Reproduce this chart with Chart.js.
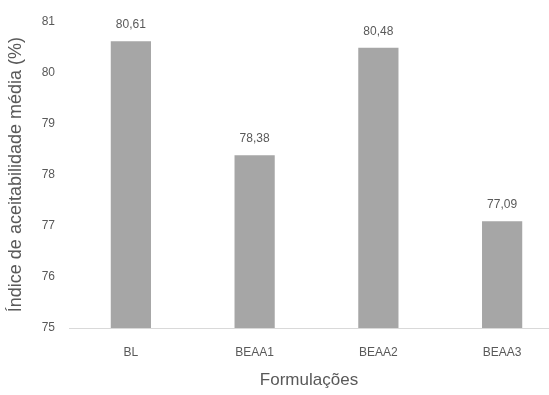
<!DOCTYPE html>
<html>
<head>
<meta charset="utf-8">
<script src="https://cdn.jsdelivr.net/npm/chart.js@4/dist/chart.umd.min.js"></script>
<style>
  html, body { margin: 0; padding: 0; background: #ffffff; overflow: hidden; }
  #wrap { width: 549px; height: 395px; overflow: hidden; position: relative; }
  #c { position: absolute; left: 0; top: 0; }
</style>
</head>
<body>
<div id="wrap"><canvas id="c" width="565" height="395"></canvas></div>
<script>
const categories = ['BL', 'BEAA1', 'BEAA2', 'BEAA3'];
const acceptability = [80.61, 78.38, 80.48, 77.09];
const yTicks = [75, 76, 77, 78, 79, 80, 81];
const xTitle = 'Formulações';
const yTitle = 'Índice de aceitabilidade média (%)';

const TEXT = '#595959';
const FONT = "'Liberation Sans', Arial, sans-serif";
const VISIBLE_WIDTH = 549;

// Draws each bar's value above it, with a comma as decimal separator,
// and the x-axis title centred under the visible part of the axis
const annotations = {
  id: 'annotations',
  afterDatasetsDraw(chart) {
    const ctx = chart.ctx;
    const meta = chart.getDatasetMeta(0);
    ctx.save();
    ctx.fillStyle = TEXT;
    ctx.font = "12px " + FONT;
    ctx.textAlign = 'center';
    ctx.textBaseline = 'bottom';
    meta.data.forEach((bar, i) => {
      const txt = acceptability[i].toFixed(2).replace('.', ',');
      ctx.fillText(txt, bar.x, bar.y - 10);
    });
    const area = chart.chartArea;
    ctx.font = "17px " + FONT;
    ctx.textBaseline = 'middle';
    ctx.fillText(xTitle, (area.left + VISIBLE_WIDTH) / 2, chart.scales.x.bottom - 10);
    ctx.restore();
  }
};

new Chart(document.getElementById('c'), {
  type: 'bar',
  data: {
    labels: categories,
    datasets: [{
      data: acceptability,
      backgroundColor: '#a6a6a6',
      borderWidth: 0,
      barPercentage: 0.65,
      categoryPercentage: 0.5
    }]
  },
  options: {
    responsive: false,
    animation: false,
    devicePixelRatio: 1,
    layout: { padding: { left: 4, right: 1, top: 19, bottom: 5 } },
    plugins: { legend: { display: false }, tooltip: { enabled: false } },
    scales: {
      x: {
        grid: { display: false, drawTicks: false },
        border: { display: true, color: '#d9d9d9', width: 1 },
        ticks: { color: TEXT, font: { family: FONT, size: 12 }, padding: 17 },
        afterFit(scale) { scale.height = 62; }
      },
      y: {
        min: 75,
        max: 81,
        afterBuildTicks(scale) { scale.ticks = yTicks.map(v => ({ value: v })); },
        grid: { display: false, drawTicks: false },
        border: { display: false },
        ticks: { color: TEXT, font: { family: FONT, size: 12 }, padding: 14 },
        afterFit(scale) { scale.width = 65; },
        title: {
          display: true,
          text: yTitle,
          color: TEXT,
          font: { family: FONT, size: 18 },
          padding: { top: 1, bottom: 0 }
        }
      }
    }
  },
  plugins: [annotations]
});
</script>
</body>
</html>
